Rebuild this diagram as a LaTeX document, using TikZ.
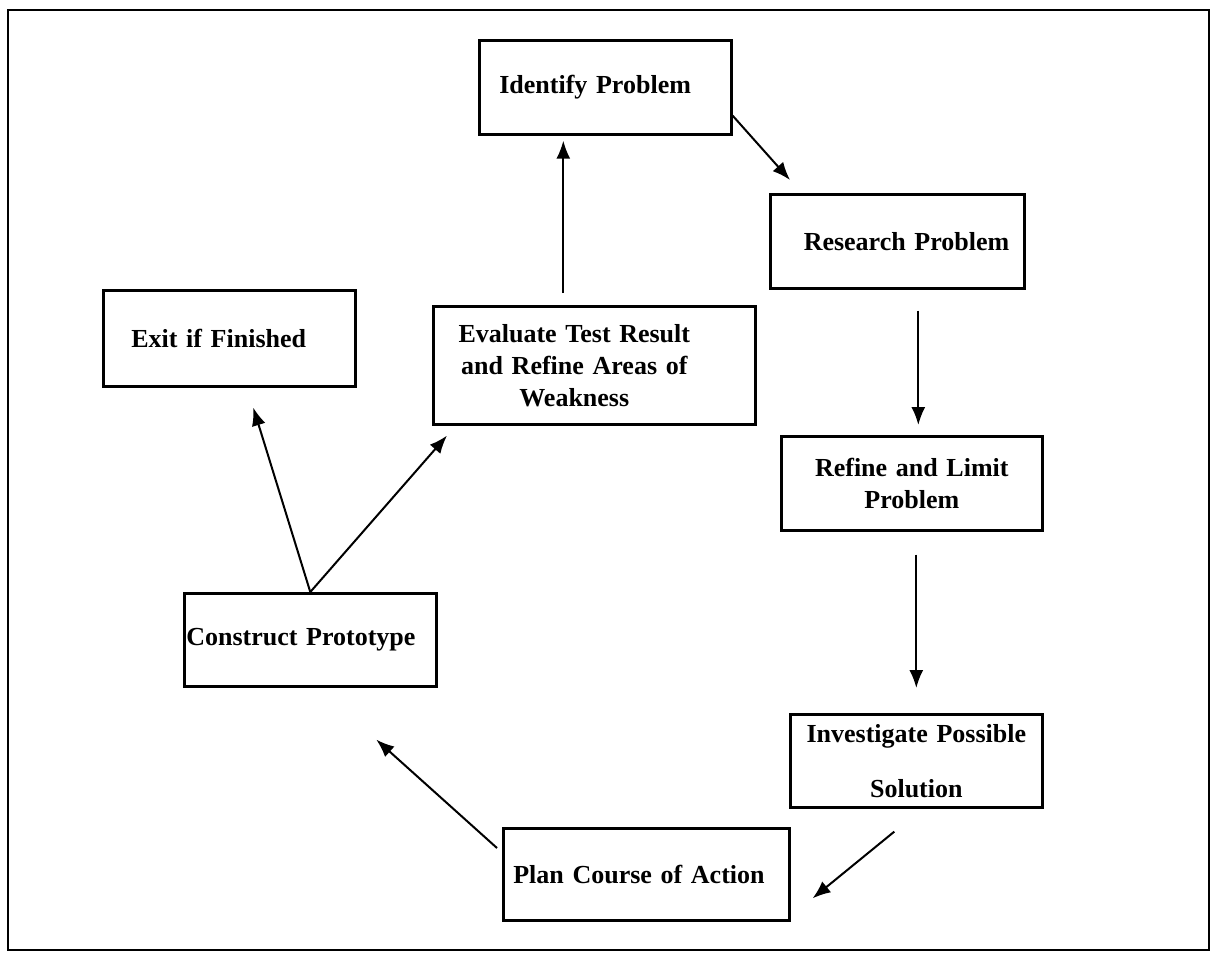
\documentclass[tikz,border=0pt]{standalone}
\usepackage{fontspec}
\setmainfont{Liberation Serif}
\usepackage{tikz}
\usetikzlibrary{shapes,arrows.meta}
\tikzstyle{block} = [rectangle, draw, line width=1.3pt, inner sep=0pt, anchor=north west,
    font=\fontsize{13}{16}\selectfont\bfseries]
\tikzstyle{line} = [draw, line width=1pt, -{Latex[length=9pt,width=7pt]}]

\begin{document}
\begin{tikzpicture}[x=0.5pt,y=-0.5pt]
      \useasboundingbox (0,0) rectangle (1213,955);
      \draw[line width=0.8pt] (8,10) rectangle (1209,950);
      \node[block,minimum width=126pt,minimum height=47pt,text width=106pt,align=left] (identify) at (478,39) {Identify Problem};
      \node[block,minimum width=127pt,minimum height=47pt,text width=112pt,align=right] (research) at (769,193) {Research Problem};
      \node[block,minimum width=130.5pt,minimum height=47pt,text width=120pt,align=center] (refine) at (780,435) {Refine and Limit\\Problem};
      \node[block,minimum width=126pt,minimum height=46.5pt,text width=122pt,align=center,
            font=\fontsize{13}{27.5}\selectfont\bfseries] (investigate) at (789,713) {Investigate Possible\\Solution};
      \node[block,minimum width=143pt,minimum height=46pt,text width=133pt,align=left] (plan) at (502,827) {Plan Course of Action};
      \node[block,minimum width=126pt,minimum height=46.5pt,text width=124pt,align=left] (construct) at (183,592) {Construct Prototype};
      \node[block,minimum width=161pt,minimum height=59pt,text width=150pt,align=center] (evaluate) at (432,305)
            {Evaluate Test Result\makebox[20pt]{}\\and Refine Areas of\makebox[20pt]{}\\Weakness\makebox[20pt]{}};
      \node[block,minimum width=126pt,minimum height=48pt,text width=98pt,align=left] (exit) at (102,289) {Exit if Finished};
      \draw[line] ([yshift=10pt]identify.south east) -- ([xshift=10.5pt,yshift=6.5pt]research.north west);
      \draw[line, shorten <=10.5pt, shorten >=5pt] ([xshift=10.5pt]research.south) -- ([xshift=10.5pt]research.south |- refine.north);
      \draw[line, shorten <=11.5pt, shorten >=12.5pt] (refine.south -| investigate.north) -- (investigate.north);
      \draw[line] ([xshift=-11pt,yshift=-11.5pt]investigate.south) -- ([xshift=11pt,yshift=-12pt]plan.east);
      \draw[line] ([xshift=-2.5pt,yshift=-10.5pt]plan.north west) -- ([xshift=33pt,yshift=-26pt]construct.south);
      \draw[line] (construct.north) -- ([xshift=12pt,yshift=-10pt]exit.south);
      \draw[line] (construct.north) -- ([xshift=7.5pt,yshift=-5pt]evaluate.south west);
      \draw[line, shorten <=6pt, shorten >=2.5pt] ([xshift=-15.5pt]evaluate.north) -- ([xshift=-15.5pt]evaluate.north |- identify.south);
\end{tikzpicture}
\end{document}
